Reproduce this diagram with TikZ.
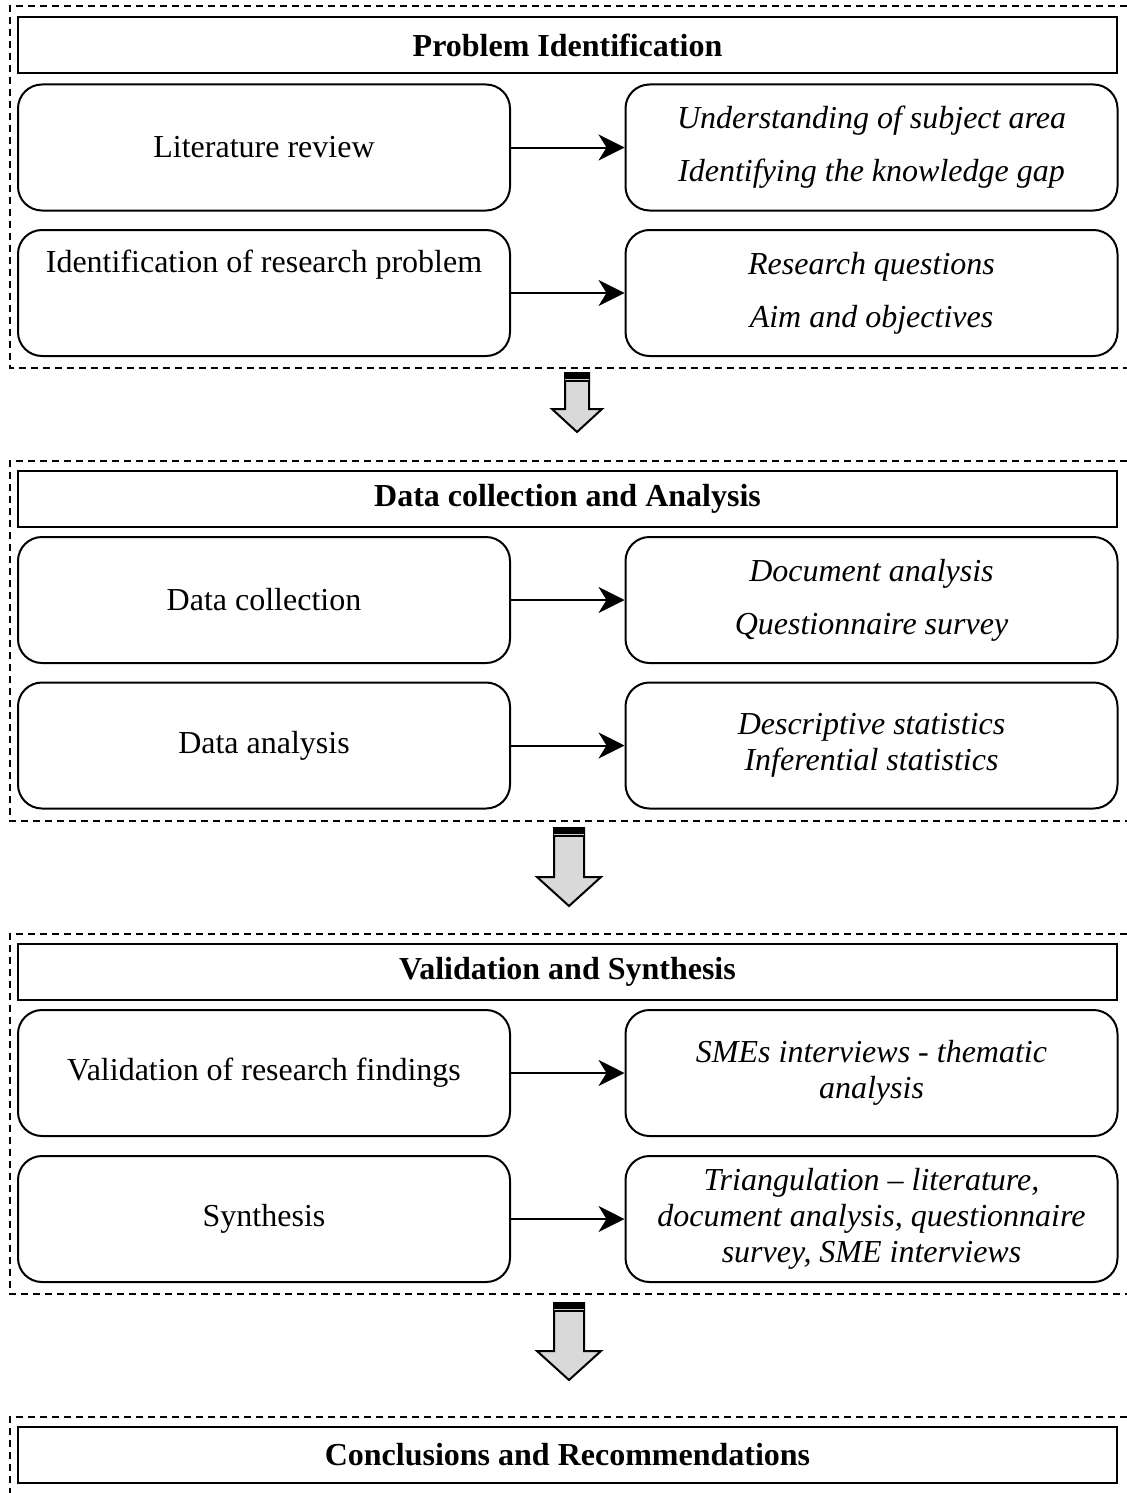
\documentclass[tikz,border=0pt]{standalone}
\usepackage{fontspec}
\setmainfont{Liberation Serif}
\usetikzlibrary{arrows.meta}
\definecolor{arrowgray}{RGB}{217,217,217}

\begin{document}
\begin{tikzpicture}[x=0.5pt, y=-0.5pt, line width=1pt,
  font=\fontsize{16}{18}\selectfont,
  frame/.style={dash pattern=on 3.5pt off 2.5pt},
  header/.style={draw, minimum width=549.5pt, minimum height=28pt, font=\fontsize{16}{18}\selectfont\bfseries},
  stepbox/.style={draw, rounded corners=12pt, minimum width=246pt, minimum height=63pt, align=center, inner sep=2pt},
  itembox/.style={stepbox, font=\fontsize{16}{18}\selectfont\itshape},
  conn/.style={-{Stealth[length=13pt,width=13pt,inset=4pt]}}]

\useasboundingbox (0,0) rectangle (1127,1493);

% dashed frames
\draw[frame] (1127,6) -- (10,6) -- (10,368) -- (1127,368);
\draw[frame] (1127,461) -- (10,461) -- (10,821) -- (1127,821);
\draw[frame] (1127,934) -- (10,934) -- (10,1294) -- (1127,1294);
\draw[frame] (1127,1417) -- (10,1417) -- (10,1493);

% problem identification
\node[header] (pi) at (567.5,45) {Problem Identification};
\node[stepbox] (lit) at (264,147.5) {Literature review};
\node[itembox] (und) at (871.5,147.5) {Understanding of subject area\\[8.5pt]Identifying the knowledge gap};
\node[stepbox] (irp) at (264,293) {Identification of research problem\\[8.5pt]\strut};
\node[itembox] (rq) at (871.5,293) {Research questions\\[8.5pt]Aim and objectives};
\draw[conn] (lit) -- (und);
\draw[conn] (irp) -- (rq);

% data collection and analysis
\node[header] (dca) at (567.5,498.5) {Data collection and Analysis};
\node[stepbox] (dc) at (264,600) {Data collection};
\node[itembox] (doc) at (871.5,600) {Document analysis\\[8.5pt]Questionnaire survey};
\node[stepbox] (da) at (264,745.5) {Data analysis};
\node[itembox] (stat) at (871.5,745.5) {Descriptive statistics\\Inferential statistics};
\draw[conn] (dc) -- (doc);
\draw[conn] (da) -- (stat);

% validation and synthesis
\node[header] (vs) at (567.5,971.5) {Validation and Synthesis};
\node[stepbox] (val) at (264,1073) {Validation of research findings};
\node[itembox] (sme) at (871.5,1073) {SMEs interviews - thematic\\analysis};
\node[stepbox] (syn) at (264,1219) {Synthesis};
\node[itembox] (tri) at (871.5,1219) {Triangulation -- literature,\\document analysis, questionnaire\\survey, SME interviews};
\draw[conn] (val) -- (sme);
\draw[conn] (syn) -- (tri);

% conclusions
\node[header] (cr) at (567.5,1455) {Conclusions and Recommendations};

% block arrows between stages
\foreach \cx/\ty/\hs/\hy/\hh/\tipy in {577/373/12/409/25/432, 569/828/15/877/32/906, 569/1303/15/1351/32/1380}{
  \filldraw[fill=arrowgray, line join=miter] (\cx-\hs,\ty) -- (\cx+\hs,\ty) -- (\cx+\hs,\hy) -- (\cx+\hh,\hy)
    -- (\cx,\tipy) -- (\cx-\hh,\hy) -- (\cx-\hs,\hy) -- cycle;
  \fill (\cx-\hs,\ty) rectangle (\cx+\hs,\ty+9);
  \draw[white!80!black, line width=0.5pt] (\cx-\hs,\ty+6) -- (\cx+\hs,\ty+6);
}
\end{tikzpicture}
\end{document}
